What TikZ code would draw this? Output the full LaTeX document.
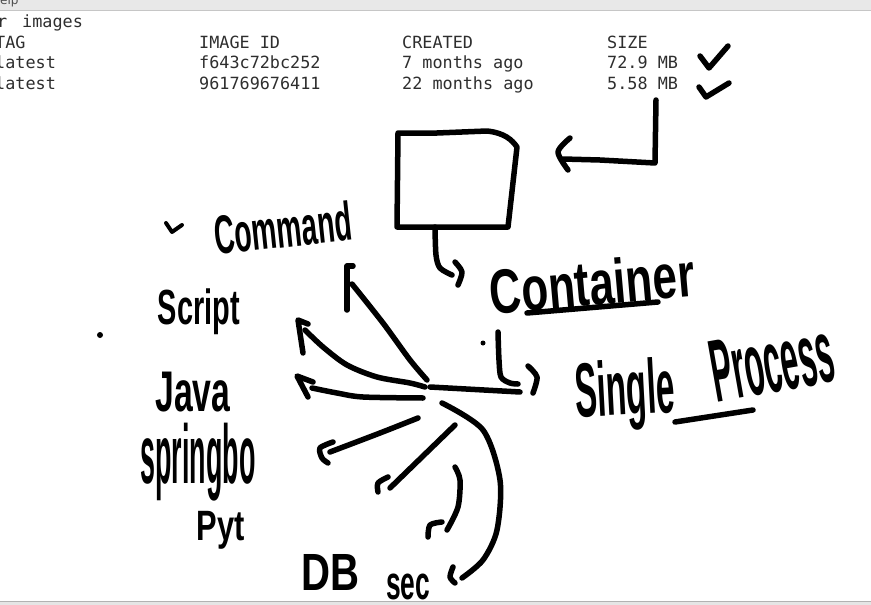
\documentclass[tikz,border=0pt]{standalone}
\usepackage{fontspec}
\usepackage{graphicx}
\newfontfamily\monofnt{DejaVu Sans Mono}
\newfontfamily\handfnt{Liberation Sans}
\newfontfamily\barfnt{DejaVu Sans}
\newcommand{\hwtext}[3]{\resizebox*{#1pt}{#2pt}{#3}}
\definecolor{termtxt}{HTML}{2E2E2E}
\definecolor{barbg}{HTML}{E8E8E8}
\tikzset{
  pen/.style={line width=5.5pt, line cap=round, line join=round, black},
  term/.style={font=\monofnt\fontsize{16.8}{17}\selectfont, text=termtxt, inner sep=0pt, anchor=base west},
  hw/.style={inner sep=0pt, font=\handfnt\bfseries, text=black},
}
\begin{document}
\begin{tikzpicture}[x=1pt,y=-1pt]
\useasboundingbox (0,0) rectangle (871,605);
\fill[white] (0,0) rectangle (871,605);
% top menu bar
\fill[barbg] (0,0) rectangle (871,10);
\draw[gray!45, line width=0.8pt] (0,10.4) -- (871,10.4);
\node[font=\barfnt\fontsize{12}{12}\selectfont, text=black!70, inner sep=0pt, anchor=base west] (help) at (-9,5) {Help};
% bottom border
\fill[gray!20] (0,601) rectangle (871,605);
\draw[gray!60, line width=1.5pt] (0,601.5) -- (871,601.5);

% terminal text
\node[term] (cmdr) at (-3,27.5) {r};
\node[term] (cmdimg) at (22,27.5) {images};
\node[term] (htag) at (-5,48) {TAG};
\node[term] (hid) at (199,48) {IMAGE ID};
\node[term] (hcr) at (402,48) {CREATED};
\node[term] (hsz) at (607,48) {SIZE};
\node[term] (t1) at (-5,68.5) {latest};
\node[term] (i1) at (199,68.5) {f643c72bc252};
\node[term] (c1) at (402,68.5) {7 months ago};
\node[term] (s1) at (607,68.5) {72.9 MB};
\node[term] (t2) at (-5,89) {latest};
\node[term] (i2) at (199,89) {961769676411};
\node[term] (c2) at (402,89) {22 months ago};
\node[term] (s2) at (607,89) {5.58 MB};

% check marks
\draw[pen] (700,56) -- (709,68) -- (728,46);
\draw[pen] (699,87) -- (706,97) -- (729,83);

% pointer from checks to the box
\draw[pen] (656,100) -- (655,163) -- (600,160) -- (563,159);
\draw[pen] plot[smooth] coordinates {(570,138) (558,152) (568,170)};

% box (image)
\draw[pen] (398,133) -- (437,133) -- (487,131) .. controls (505,133) and (512,140) .. (517,147) -- (508,227) -- (397,227) -- cycle;
\draw[pen] plot[smooth] coordinates {(435,227) (436,255) (440,268) (452,275)};
\draw[pen] plot[smooth] coordinates {(455,262) (462,272) (458,285)};

% Container
\node[hw, rotate=5] (container) at (592,283) {\hwtext{205}{46}{Container}};
\draw[pen] (527,313) -- (658,302);

% L) single process
\fill (483,343) circle (2.5pt);
\draw[pen] plot[smooth] coordinates {(498,332) (499,360) (501,377) (510,383) (518,384)};
\draw[pen] plot[smooth] coordinates {(528,366) (537,377) (533,393)};
\node[hw, rotate=3] (single) at (625,395) {\hwtext{100}{72}{Single}};
\node[hw, rotate=10] (process) at (772,362) {\hwtext{124}{62}{Process}};
\draw[pen] (675,422) -- (753,410);

% hub
\coordinate (hub) at (430,387);
\draw[pen] (hub) -- (520,392);

% arrows to the left
\draw[pen] plot[smooth] coordinates {(427,380) (410,360) (383,323) (352,284)};
\draw[pen] (353,266) -- (347,266) -- (347,310);
\draw[pen] plot[smooth] coordinates {(425,387) (410,383) (377,377) (347,365) (323,347) (305,330)};
\draw[pen] (308,324) -- (298,320) -- (303,353);
\draw[pen] plot[smooth] coordinates {(423,398) (363,397) (337,393) (312,388)};
\draw[pen] (313,382) -- (297,376) -- (308,397);
\draw[pen] plot[smooth] coordinates {(418,418) (380,433) (330,452)};
\draw[pen] plot[smooth] coordinates {(333,442) (320,448) (322,458) (328,463)};
\draw[pen] (455,425) -- (390,488);
\draw[pen] plot[smooth] coordinates {(388,477) (378,483) (378,492)};
\draw[pen] plot[smooth] coordinates {(455,467) (460,480) (458,507) (447,530)};
\draw[pen] plot[smooth] coordinates {(442,522) (430,525) (428,537)};
\draw[pen] plot[smooth] coordinates {(442,403) (483,430) (500,480) (497,530) (483,560) (462,578)};
\draw[pen] plot[smooth] coordinates {(453,567) (450,577) (455,583)};

% left labels
\draw[pen, line width=4pt] (166,223) -- (172,232) -- (182,225);
\node[hw, rotate=6] (command) at (283,228) {\hwtext{138}{40}{Command}};
\node[hw] (script) at (199,312) {\hwtext{82}{46}{Script}};
\node[hw] (java) at (193,392) {\hwtext{75}{40}{Java}};
\node[hw] (spring) at (198,462) {\hwtext{115}{78}{springbo}};
\node[hw] (pyt) at (221,530) {\hwtext{48}{38}{Pyt}};
\node[hw] (db) at (331,572) {\hwtext{58}{36}{DB}};
\node[hw] (sec) at (408,587) {\hwtext{44}{26}{sec}};
\fill (100,335) circle (3pt);
\end{tikzpicture}
\end{document}
